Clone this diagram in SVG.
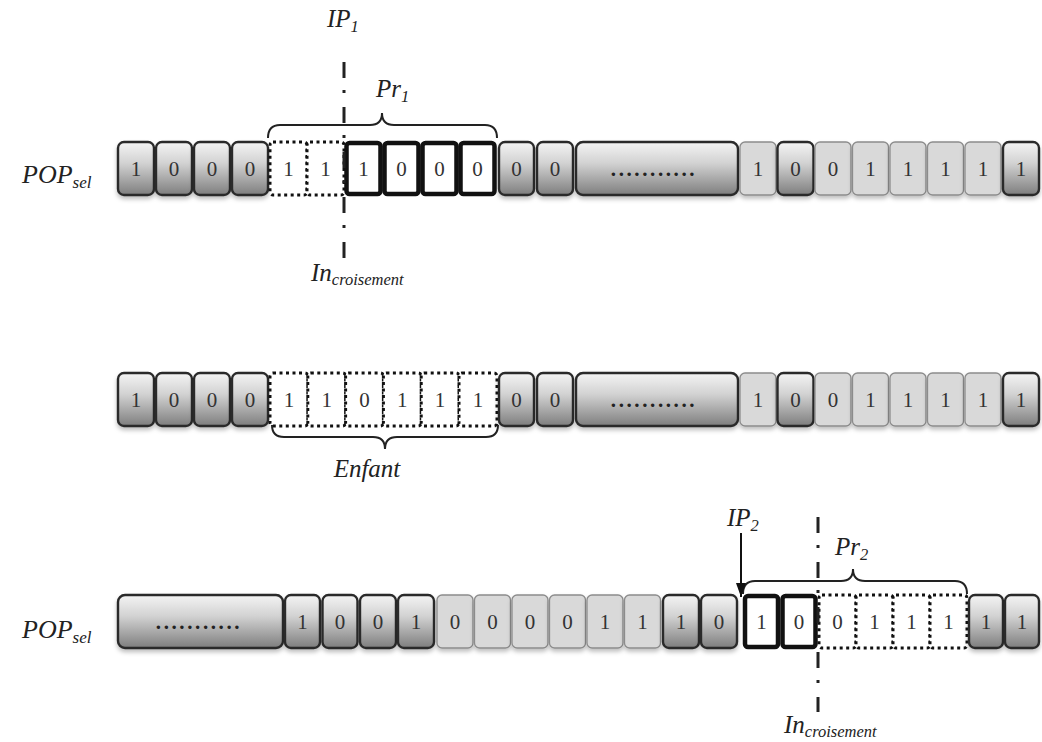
<svg xmlns="http://www.w3.org/2000/svg" width="1042" height="742" viewBox="0 0 1042 742">
<defs>
<linearGradient id="gd" x1="0" y1="0" x2="0" y2="1">
<stop offset="0" stop-color="#f4f4f4"/>
<stop offset="0.4" stop-color="#d2d2d2"/>
<stop offset="1" stop-color="#7e7e7e"/>
</linearGradient>
<filter id="sh" x="-20%" y="-20%" width="140%" height="150%">
<feDropShadow dx="0" dy="3" stdDeviation="2" flood-color="#000" flood-opacity="0.25"/>
</filter>
<marker id="ah" viewBox="0 0 14 10" refX="14" refY="5" markerWidth="14" markerHeight="10" markerUnits="userSpaceOnUse" orient="auto">
<path d="M0,0 L14,5 L0,10 Z" fill="#111"/>
</marker>
<style>
.dk{fill:url(#gd);stroke:#2a2a2a;stroke-width:2.4;filter:url(#sh)}
.lt{fill:#d9d9d9;stroke:#8c8c8c;stroke-width:1.3;filter:url(#sh)}
.bd{fill:#fff;stroke:#111;stroke-width:4.5}
.dt{fill:#fff;stroke:#111;stroke-width:3;stroke-dasharray:3 3.5}
.d{font-family:"Liberation Serif",serif;font-size:21px;fill:#333;text-anchor:middle}
.dots{font-family:"Liberation Serif",serif;font-size:21px;font-weight:bold;fill:#222;text-anchor:middle;letter-spacing:2.6px}
.lbl{font-family:"Liberation Serif",serif;font-style:italic;fill:#222;font-size:25px}
.sub{font-size:16.5px}
.dd{fill:none;stroke:#222;stroke-width:3;stroke-dasharray:16 12 3 14}
.br{fill:none;stroke:#222;stroke-width:2}
.ar{fill:none;stroke:#111;stroke-width:2}
</style>
</defs>
<rect width="1042" height="742" fill="#fff"/>

<!-- Row 1 -->
<g id="row1">
<g id="r1c1"><rect class="dk" x="118" y="142" width="36" height="53" rx="6"/><text class="d" x="136" y="176">1</text></g>
<g id="r1c2"><rect class="dk" x="156" y="142" width="36" height="53" rx="6"/><text class="d" x="174" y="176">0</text></g>
<g id="r1c3"><rect class="dk" x="194" y="142" width="36" height="53" rx="6"/><text class="d" x="212" y="176">0</text></g>
<g id="r1c4"><rect class="dk" x="232" y="142" width="36" height="53" rx="6"/><text class="d" x="250" y="176">0</text></g>
<g id="r1c5"><rect class="dt" x="270" y="142" width="37" height="53" rx="3"/><text class="d" x="288.5" y="176">1</text></g>
<g id="r1c6"><rect class="dt" x="307" y="142" width="37" height="53" rx="3"/><text class="d" x="325.5" y="176">1</text></g>
<g id="r1c7"><rect class="bd" x="346.5" y="143" width="34" height="51" rx="3"/><text class="d" x="363.5" y="176">1</text></g>
<g id="r1c8"><rect class="bd" x="384.5" y="143" width="34" height="51" rx="3"/><text class="d" x="401.5" y="176">0</text></g>
<g id="r1c9"><rect class="bd" x="422.5" y="143" width="34" height="51" rx="3"/><text class="d" x="439.5" y="176">0</text></g>
<g id="r1c10"><rect class="bd" x="460.5" y="143" width="34" height="51" rx="3"/><text class="d" x="477.5" y="176">0</text></g>
<g id="r1c11"><rect class="dk" x="499" y="142" width="35" height="53" rx="6"/><text class="d" x="516.5" y="176">0</text></g>
<g id="r1c12"><rect class="dk" x="537" y="142" width="36" height="53" rx="6"/><text class="d" x="555" y="176">0</text></g>
<g id="r1c13"><rect class="dk" x="576" y="142" width="162" height="53" rx="7"/><text class="dots" x="654" y="176">...........</text></g>
<g id="r1c14"><rect class="lt" x="740" y="142" width="36" height="53" rx="5"/><text class="d" x="758" y="176">1</text></g>
<g id="r1c15"><rect class="dk" x="777.5" y="142" width="36" height="53" rx="6"/><text class="d" x="795.5" y="176">0</text></g>
<g id="r1c16"><rect class="lt" x="815" y="142" width="36" height="53" rx="5"/><text class="d" x="833" y="176">0</text></g>
<g id="r1c17"><rect class="lt" x="852.5" y="142" width="36" height="53" rx="5"/><text class="d" x="870.5" y="176">1</text></g>
<g id="r1c18"><rect class="lt" x="890" y="142" width="36" height="53" rx="5"/><text class="d" x="908" y="176">1</text></g>
<g id="r1c19"><rect class="lt" x="927.5" y="142" width="36" height="53" rx="5"/><text class="d" x="945.5" y="176">1</text></g>
<g id="r1c20"><rect class="lt" x="965" y="142" width="36" height="53" rx="5"/><text class="d" x="983" y="176">1</text></g>
<g id="r1c21"><rect class="dk" x="1003" y="142" width="36" height="53" rx="6"/><text class="d" x="1021" y="176">1</text></g>
</g>

<!-- Row 2 -->
<g id="row2">
<g id="r2c1"><rect class="dk" x="118" y="373" width="36" height="53" rx="6"/><text class="d" x="136" y="407">1</text></g>
<g id="r2c2"><rect class="dk" x="156" y="373" width="36" height="53" rx="6"/><text class="d" x="174" y="407">0</text></g>
<g id="r2c3"><rect class="dk" x="194" y="373" width="36" height="53" rx="6"/><text class="d" x="212" y="407">0</text></g>
<g id="r2c4"><rect class="dk" x="232" y="373" width="36" height="53" rx="6"/><text class="d" x="250" y="407">0</text></g>
<g id="r2c5"><rect class="dt" x="270" y="373" width="37.8" height="53" rx="3"/><text class="d" x="288.9" y="407">1</text></g>
<g id="r2c6"><rect class="dt" x="307.8" y="373" width="37.8" height="53" rx="3"/><text class="d" x="326.7" y="407">1</text></g>
<g id="r2c7"><rect class="dt" x="345.6" y="373" width="37.8" height="53" rx="3"/><text class="d" x="364.5" y="407">0</text></g>
<g id="r2c8"><rect class="dt" x="383.4" y="373" width="37.8" height="53" rx="3"/><text class="d" x="402.3" y="407">1</text></g>
<g id="r2c9"><rect class="dt" x="421.2" y="373" width="37.8" height="53" rx="3"/><text class="d" x="440.1" y="407">1</text></g>
<g id="r2c10"><rect class="dt" x="459" y="373" width="38" height="53" rx="3"/><text class="d" x="478" y="407">1</text></g>
<g id="r2c11"><rect class="dk" x="499" y="373" width="35" height="53" rx="6"/><text class="d" x="516.5" y="407">0</text></g>
<g id="r2c12"><rect class="dk" x="537" y="373" width="36" height="53" rx="6"/><text class="d" x="555" y="407">0</text></g>
<g id="r2c13"><rect class="dk" x="576" y="373" width="162" height="53" rx="7"/><text class="dots" x="654" y="407">...........</text></g>
<g id="r2c14"><rect class="lt" x="740" y="373" width="36" height="53" rx="5"/><text class="d" x="758" y="407">1</text></g>
<g id="r2c15"><rect class="dk" x="777.5" y="373" width="36" height="53" rx="6"/><text class="d" x="795.5" y="407">0</text></g>
<g id="r2c16"><rect class="lt" x="815" y="373" width="36" height="53" rx="5"/><text class="d" x="833" y="407">0</text></g>
<g id="r2c17"><rect class="lt" x="852.5" y="373" width="36" height="53" rx="5"/><text class="d" x="870.5" y="407">1</text></g>
<g id="r2c18"><rect class="lt" x="890" y="373" width="36" height="53" rx="5"/><text class="d" x="908" y="407">1</text></g>
<g id="r2c19"><rect class="lt" x="927.5" y="373" width="36" height="53" rx="5"/><text class="d" x="945.5" y="407">1</text></g>
<g id="r2c20"><rect class="lt" x="965" y="373" width="36" height="53" rx="5"/><text class="d" x="983" y="407">1</text></g>
<g id="r2c21"><rect class="dk" x="1003" y="373" width="36" height="53" rx="6"/><text class="d" x="1021" y="407">1</text></g>
</g>

<!-- Row 3 -->
<g id="row3">
<g id="r3c1"><rect class="dk" x="118" y="595" width="165" height="53" rx="7"/><text class="dots" x="199" y="629">...........</text></g>
<g id="r3c2"><rect class="dk" x="285" y="595" width="35" height="53" rx="6"/><text class="d" x="302.5" y="629">1</text></g>
<g id="r3c3"><rect class="dk" x="322.5" y="595" width="35" height="53" rx="6"/><text class="d" x="340" y="629">0</text></g>
<g id="r3c4"><rect class="dk" x="360" y="595" width="36" height="53" rx="6"/><text class="d" x="378" y="629">0</text></g>
<g id="r3c5"><rect class="dk" x="398" y="595" width="36" height="53" rx="6"/><text class="d" x="416" y="629">1</text></g>
<g id="r3c6"><rect class="lt" x="437" y="595" width="36" height="53" rx="5"/><text class="d" x="455" y="629">0</text></g>
<g id="r3c7"><rect class="lt" x="474.5" y="595" width="36" height="53" rx="5"/><text class="d" x="492.5" y="629">0</text></g>
<g id="r3c8"><rect class="lt" x="512" y="595" width="36" height="53" rx="5"/><text class="d" x="530" y="629">0</text></g>
<g id="r3c9"><rect class="lt" x="549.5" y="595" width="36" height="53" rx="5"/><text class="d" x="567.5" y="629">0</text></g>
<g id="r3c10"><rect class="lt" x="587" y="595" width="36" height="53" rx="5"/><text class="d" x="605" y="629">1</text></g>
<g id="r3c11"><rect class="lt" x="624.5" y="595" width="36" height="53" rx="5"/><text class="d" x="642.5" y="629">1</text></g>
<g id="r3c12"><rect class="dk" x="663" y="595" width="36" height="53" rx="6"/><text class="d" x="681" y="629">1</text></g>
<g id="r3c13"><rect class="dk" x="701" y="595" width="36" height="53" rx="6"/><text class="d" x="719" y="629">0</text></g>
<g id="r3c14"><rect class="bd" x="745" y="596" width="33" height="51" rx="3"/><text class="d" x="761.5" y="629">1</text></g>
<g id="r3c15"><rect class="bd" x="782.5" y="596" width="33" height="51" rx="3"/><text class="d" x="799" y="629">0</text></g>
<g id="r3c16"><rect class="dt" x="819" y="595" width="37" height="53" rx="3"/><text class="d" x="837.5" y="629">0</text></g>
<g id="r3c17"><rect class="dt" x="856" y="595" width="37" height="53" rx="3"/><text class="d" x="874.5" y="629">1</text></g>
<g id="r3c18"><rect class="dt" x="893" y="595" width="37" height="53" rx="3"/><text class="d" x="911.5" y="629">1</text></g>
<g id="r3c19"><rect class="dt" x="930" y="595" width="37" height="53" rx="3"/><text class="d" x="948.5" y="629">1</text></g>
<g id="r3c20"><rect class="dk" x="969" y="595" width="34" height="53" rx="6"/><text class="d" x="986" y="629">1</text></g>
<g id="r3c21"><rect class="dk" x="1005" y="595" width="34" height="53" rx="6"/><text class="d" x="1022" y="629">1</text></g>
</g>

<!-- Connectors: crossover lines, braces, arrow -->
<g id="connectors">
<line class="dd" x1="344" y1="62" x2="344" y2="258"/>
<line class="dd" x1="818" y1="517" x2="818" y2="712"/>
<path class="br" d="M268,138 Q268,125 280,125 L370,125 Q382,125 382,113 Q382,125 394,125 L485,125 Q497,125 497,138"/>
<path class="br" d="M272,425 Q272,437 284,437 L373,437 Q385,437 385,449 Q385,437 397,437 L486,437 Q498,437 498,425"/>
<path class="br" d="M743,594 Q743,581 755,581 L841,581 Q853,581 853,569 Q853,581 865,581 L955,581 Q967,581 967,594"/>
<line class="ar" x1="741" y1="533" x2="741" y2="597" marker-end="url(#ah)"/>
</g>

<!-- Labels -->
<g id="labels">
<text class="lbl" x="327" y="27">IP<tspan class="sub" dy="5">1</tspan></text>
<text class="lbl" x="376" y="97">Pr<tspan class="sub" dy="5">1</tspan></text>
<text class="lbl" x="311" y="281">In<tspan class="sub" dy="4">croisement</tspan></text>
<text class="lbl" x="22" y="183" style="font-size:26px">POP<tspan class="sub" dy="5" style="font-size:17px">sel</tspan></text>
<text class="lbl" x="367" y="477" text-anchor="middle">Enfant</text>
<text class="lbl" x="727" y="526">IP<tspan class="sub" dy="5">2</tspan></text>
<text class="lbl" x="835" y="555">Pr<tspan class="sub" dy="5">2</tspan></text>
<text class="lbl" x="22" y="638" style="font-size:26px">POP<tspan class="sub" dy="5" style="font-size:17px">sel</tspan></text>
<text class="lbl" x="784" y="733">In<tspan class="sub" dy="4">croisement</tspan></text>
</g>
</svg>
